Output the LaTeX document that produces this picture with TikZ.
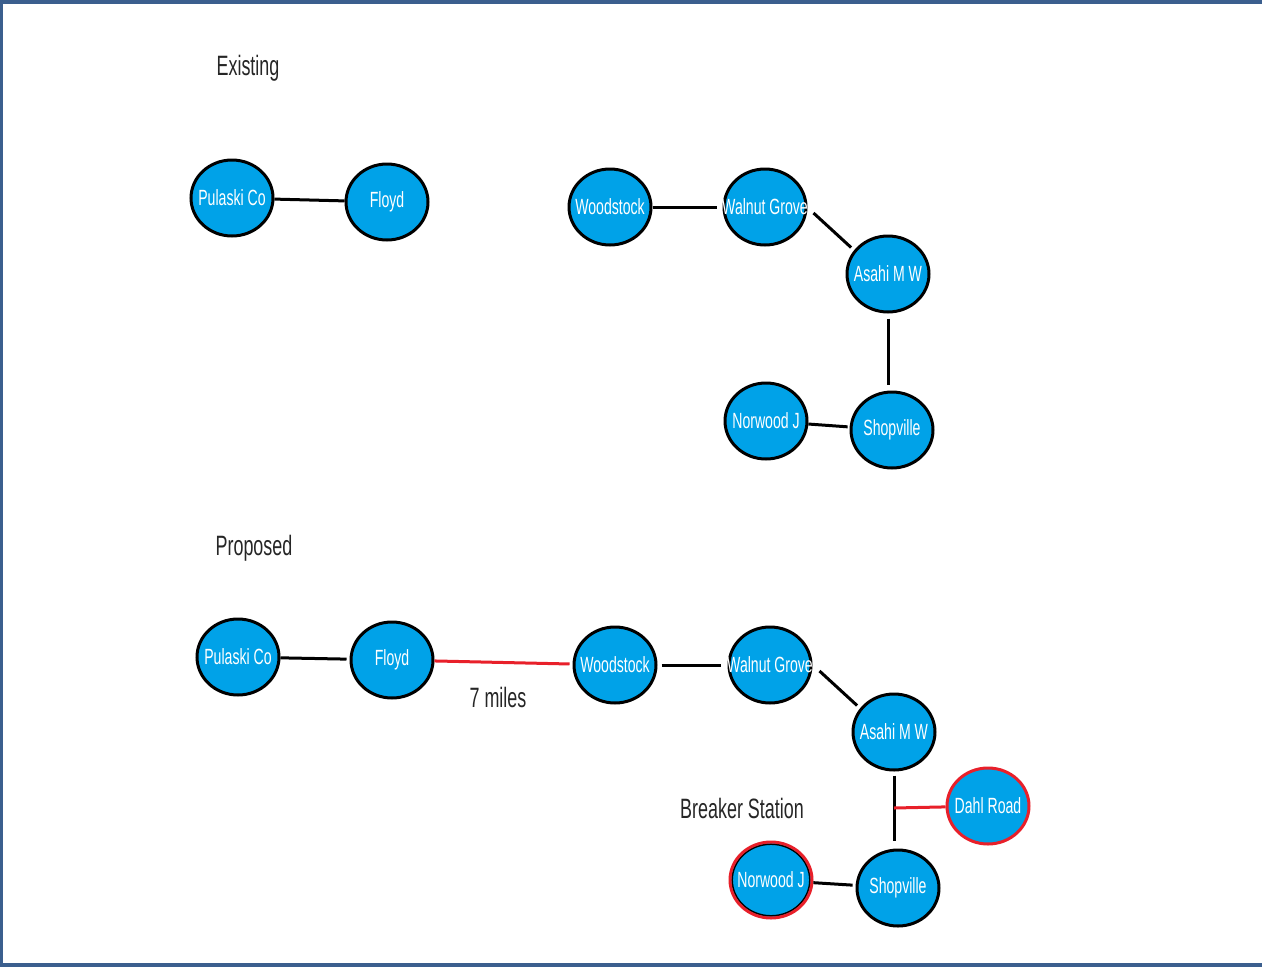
\documentclass[tikz,border=0pt]{standalone}
\usepackage{fontspec}
\setmainfont{Liberation Sans}[FakeStretch=0.64]
\usetikzlibrary{shapes.geometric,calc}
\definecolor{stfill}{HTML}{00A2E8}
\definecolor{frameblue}{HTML}{3B5F8E}
\definecolor{linered}{HTML}{E8202A}
\newcommand\stlabel[1]{\makebox[0pt]{#1}}
\tikzset{
  station/.style={ellipse, draw=black, line width=3, fill=stfill, text=white,
    minimum width=82, minimum height=76, inner sep=0,
    font=\fontsize{22}{25}\selectfont},
  redstation/.style={station, draw=linered},
  link/.style={line width=3, draw=black},
  redlink/.style={line width=3, draw=linered},
  heading/.style={font=\fontsize{28}{32}\selectfont, text=black!85, inner sep=0},
}
\begin{document}
\begin{tikzpicture}[x=1pt,y=-1pt]
\useasboundingbox (0,0) rectangle (1262,967);
\fill[white] (0,0) rectangle (1262,967);
\fill[frameblue] (0,0) rectangle (1262,4);
\fill[frameblue] (0,0) rectangle (3,967);
\fill[frameblue] (0,963) rectangle (1262,967);

% Existing
\node[heading] (hexist) at (248,68) {Existing};
\node[station] (epul) at (232,198) {\stlabel{Pulaski Co}};
\node[station] (eflo) at (387,202) {\stlabel{Floyd}};
\node[station] (ewoo) at (610,207) {\stlabel{Woodstock}};
\node[station] (ewal) at (765,207) {\stlabel{Walnut Grove}};
\node[station] (easa) at (888,274) {\stlabel{Asahi M W}};
\node[station] (enor) at (766,421) {\stlabel{Norwood J}};
\node[station] (esho) at (892,430) {\stlabel{Shopville}};

\draw[link] (epul) -- (eflo);
\draw[link, shorten >=6] (ewoo) -- (ewal);
\draw[link, shorten >=4] ($(ewal.east)+(6,6)$) -- (easa.145);
\draw[link, shorten <=5, shorten >=6] (easa.south) -- (easa.south |- esho.north);
\draw[link, shorten >=2] (enor) -- (esho);

% Proposed
\node[heading] (hprop) at (254,548) {Proposed};
\node[station] (ppul) at (238,657) {\stlabel{Pulaski Co}};
\node[station] (pflo) at (392,660) {\stlabel{Floyd}};
\node[station] (pwoo) at (615,665) {\stlabel{Woodstock}};
\node[station] (pwal) at (770,665) {\stlabel{Walnut Grove}};
\node[station] (pasa) at (894,732) {\stlabel{Asahi M W}};
\node[redstation] (pdah) at (988,806) {\stlabel{Dahl Road}};
\node[station] (psho) at (898,888) {\stlabel{Shopville}};
\node[redstation, path picture={\draw[black, line width=1.5] (path picture bounding box.center) ellipse (38.8 and 35.8);}] (pnor) at (771,880) {\stlabel{Norwood J}};

\node[heading] (miles) at (498,697) {7 miles};
\node[heading] (brk) at (742,808) {Breaker Station};

\draw[link, shorten >=3] (ppul) -- (pflo);
\draw[redlink, shorten >=3] (pflo) -- (pwoo);
\draw[link, shorten <=4, shorten >=7] (pwoo) -- (pwal);
\draw[link, shorten >=4] ($(pwal.east)+(7,6)$) -- (pasa.145);
\coordinate (pmid) at (894,808);
\draw[link, shorten <=4, shorten >=8] (pasa.south) -- (pasa.south |- psho.north);
\draw[redlink] (pmid) -- (pdah);
\draw[link, shorten >=3] (pnor) -- (psho);
\end{tikzpicture}
\end{document}
